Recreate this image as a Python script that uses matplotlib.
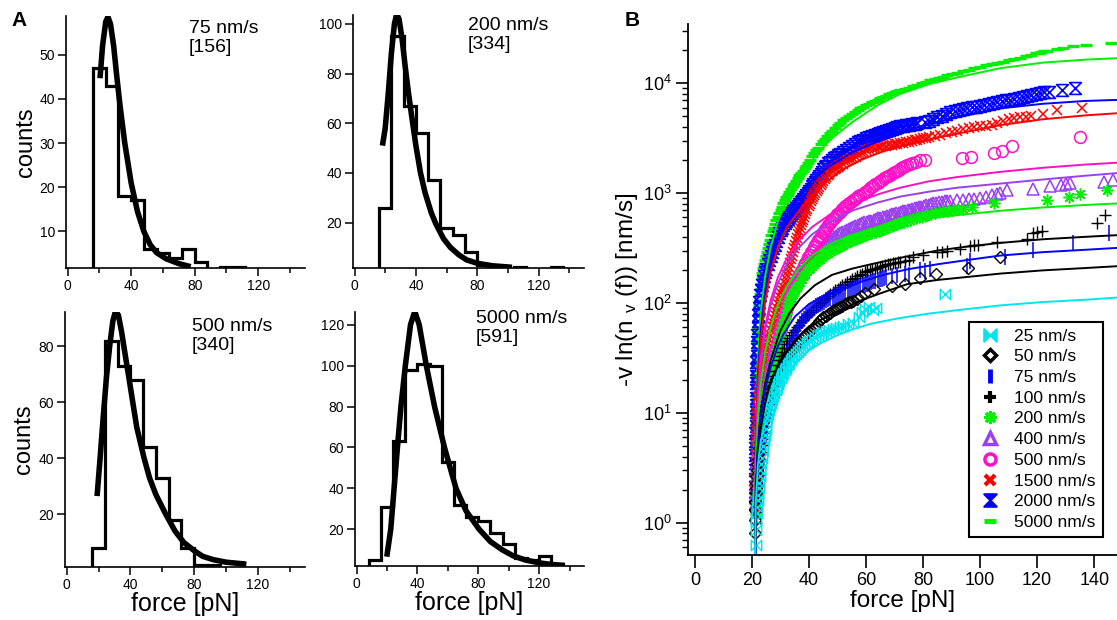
import matplotlib
matplotlib.use('Agg')
import matplotlib.pyplot as plt
import numpy as np
from matplotlib.path import Path
from matplotlib.lines import Line2D
from matplotlib.ticker import FixedLocator, LogLocator, NullFormatter, FuncFormatter

plt.rcParams['font.family'] = ['Liberation Sans', 'DejaVu Sans']
plt.rcParams['mathtext.fontset'] = 'custom'
plt.rcParams['mathtext.rm'] = 'Liberation Sans'
plt.rcParams['mathtext.it'] = 'Liberation Sans:italic'
plt.rcParams['mathtext.bf'] = 'Liberation Sans:bold'

# ---------------- Panel A data ----------------
edges_75 = [16, 24, 32, 40, 48, 56, 64, 72, 80, 88, 96, 104, 112]
counts_75 = [47, 43, 18, 17, 6, 5, 4, 6, 3, 0, 2, 2]
fit_75 = [(20.4, 44.7), (22, 52), (24, 57.5), (25.4, 58.6), (27, 57), (29, 52), (31, 45),
          (33, 38.5), (36, 30), (40, 21), (44, 14.5), (48, 10), (52, 7), (56, 5.2),
          (62, 3.8), (70, 2.7), (77.5, 2.0)]

edges_200 = [16, 24, 32, 40, 48, 56, 64, 72, 80, 88, 96, 104, 112, 120, 128, 136]
counts_200 = [26, 95, 67, 56, 37, 18, 15, 8, 3, 2, 1, 2, 0, 0, 2]
fit_200 = [(18.2, 51), (20, 58), (22, 72), (24, 88), (26, 100), (27.5, 104), (29, 102),
           (31, 94), (33, 83), (35, 73), (37, 64), (40, 51), (43, 40), (46, 32), (50, 24),
           (53, 19.5), (58, 13.5), (62.5, 10), (68, 7), (73, 5), (80, 3.6), (90, 2.6),
           (102.6, 2.0)]

edges_500 = [16, 24, 32, 40, 48, 56, 64, 72, 80, 88, 96, 104, 112]
counts_500 = [8, 82, 73, 68, 44, 33, 18, 8, 2, 2, 1, 1]
fit_500 = [(19.1, 26.5), (21, 40), (23, 55), (25, 69), (27, 80), (29, 89), (30.7, 92.6),
           (32.5, 91), (34.5, 85), (37, 76), (39, 69), (41.2, 61), (44, 51), (48.6, 40),
           (52, 33), (56, 27), (62.2, 20), (68, 14), (73.4, 10), (80, 7), (85.3, 5),
           (92, 3.8), (100, 2.9), (112.7, 2.2)]

edges_5000 = [8, 16, 24, 32, 40, 48, 56, 64, 72, 80, 88, 96, 104, 112, 120, 128, 136]
counts_5000 = [5, 31, 63, 98, 101, 100, 53, 32, 26, 24, 18, 13, 6, 5, 7, 3]
fit_5000 = [(19.9, 6.6), (22.5, 20), (24.7, 40), (26.9, 60), (29.2, 80), (32.1, 100),
            (35.5, 120), (38.3, 126.5), (41.2, 120), (45.9, 100), (51.3, 80), (57.8, 60),
            (65.4, 40), (72, 29), (80.6, 20), (88, 14), (95.7, 10), (103, 7), (110.9, 5),
            (120, 3.6), (128, 2.8), (136.9, 2.3)]

hist_labels = ['75 nm/s\n[156]', '200 nm/s\n[334]', '500 nm/s\n[340]', '5000 nm/s\n[591]']

# ---------------- Panel B data: (force [pN], -v ln(n_v(f)) [nm/s]) ----------------
s5000 = [(21.0,1.5),(21.05,1.7),(21.1,1.9),(21.1,2.1),(21.15,2.4),(21.15,2.7),(21.2,3.0),(21.2,3.4),
         (21.25,3.8),(21.25,4.3),(21.3,4.8),(21.3,5.4),(21.35,6.0),(21.35,6.8),(21.4,7.6),(21.4,8.5),
         (21.45,9.5),(21.5,10.6),(21.5,12),(21.55,13.4),(21.6,15),(21.65,17),(21.7,19),(21.75,21),
         (21.8,24),(21.85,27),(21.9,30),(21.95,34),(22.0,38),(22.05,43),(22.1,48),(22.15,54),
         (22.2,60),(22.3,68),(22.4,76),(22.45,85),(22.55,95),(22.65,106),(22.8,120),(22.95,134),
         (23.1,150),(23.3,168),(23.55,188),(23.8,210),
         (24.0,225),(24.4,245),(24.8,265),(25.2,288),(25.6,315),(26.0,345),(26.4,378),(26.8,412),
         (27.2,450),(27.6,485),(28.0,525),(28.5,570),(29.0,610),(29.5,655),(30.0,700),(30.5,755),
         (31.0,810),(31.5,870),(32.0,920),(32.5,970),(33.0,1020),(33.6,1085),(34.2,1150),(34.8,1220),
         (35.4,1300),(36.0,1370),(36.6,1450),(37.2,1525),(37.8,1600),(38.4,1675),(39.0,1750),
         (39.7,1860),(40.4,1990),(41.1,2170),(41.8,2310),(42.5,2450),(43.2,2600),(44.0,2780),
         (44.8,2950),(45.6,3130),(46.4,3310),(47.2,3500),(48.0,3680),(49.0,3900),(50.0,4150),
         (51.0,4380),(52.0,4610),(53.0,4850),(54.0,5060),(55.0,5280),(56.0,5500),(57.0,5700),
         (58.0,5900),(59.0,6100),(60.0,6300),(61.0,6500),(62.0,6700),(63.0,6900),(64.0,7100),
         (65.0,7300),(66.0,7500),(67.0,7700),(68.0,7900),(69.0,8070),(70.0,8250),(71.0,8420),
         (72.0,8600),(73.5,8850),(75.0,9120),(76.5,9400),(78.0,9700),(79.5,9950),(81.0,10250),
         (82.5,10600),(84.0,10900),(85.5,11150),(87.0,11450),(88.5,11800),(90.0,12100),
         (92.0,12500),(94.0,12900),(96.0,13300),(98.0,13700),(100.0,14100),(102.0,14500),
         (104.0,14900),(106.0,15300),(108.0,15700),(110.0,16100),(112.0,16600),(114.0,17100),
         (116.0,17600),(118.0,18200),(119.5,18700),(120.5,19000),(121.5,19300),(122.5,19500),
         (123.5,19700),(127.0,20400),(129.0,20900),(132.7,22000),(137.0,22500),(146.0,23200)]
s2000 = [(21.0,1.5),(21.0,1.8),(21.0,2.1),(21.05,2.5),(21.05,3.0),(21.1,3.5),(21.1,4.1),(21.1,4.8),
         (21.15,5.6),(21.15,6.5),(21.2,7.6),(21.2,8.8),(21.25,10.2),(21.25,11.8),(21.3,13.7),
         (21.3,16),(21.35,18.5),(21.4,21.5),(21.45,25),(21.5,29),(21.55,33),(21.6,38),(21.7,44),
         (21.8,51),(21.9,59),(22.0,68),(22.15,78),(22.3,90),(22.5,103),(22.75,118),
         (23.0,130),(23.4,145),(23.8,160),(24.2,175),(24.6,190),(25.0,205),(25.5,225),(26.0,245),
         (26.5,265),(27.0,290),(27.5,315),(28.0,340),(28.5,370),(29.0,400),(29.5,430),(30.0,460),
         (30.5,485),(31.0,510),(31.5,535),(32.0,560),(32.5,585),(33.0,610),(33.5,630),(34.0,655),
         (34.5,680),(35.0,705),(35.5,735),(36.0,765),(36.5,795),(37.0,825),(37.5,855),(38.0,885),
         (38.5,920),(39.0,960),(39.5,1000),(40.0,1050),(40.5,1100),(41.0,1150),(41.5,1200),
         (42.0,1250),(42.5,1310),(43.0,1370),(43.5,1430),(44.0,1500),(44.5,1570),(45.0,1640),
         (45.5,1710),(46.0,1780),(46.7,1860),(47.4,1930),(48.1,2000),(48.8,2070),(49.5,2140),
         (50.2,2210),(51.0,2290),(52.0,2390),(53.0,2490),(54.0,2590),(55.0,2690),(56.0,2790),
         (57.0,2890),(58.0,2990),(59.0,3070),(60.0,3150),(61.0,3230),(62.0,3300),(63.0,3380),
         (64.0,3450),(65.0,3530),(66.0,3600),(67.0,3680),(68.0,3750),(69.0,3830),(70.0,3900),
         (71.0,3980),(72.0,4050),(73.0,4100),(74.0,4150),(75.0,4200),(76.0,4250),(77.0,4280),
         (78.0,4300),(80.5,4450),(82.0,4550),(83.5,4700),(85.0,4880),(86.5,5050),(88.0,5250),
         (89.5,5420),(91.0,5580),(92.5,5700),(94.0,5820),(95.5,5930),(97.0,6020),(98.5,6120),
         (100.0,6200),(101.5,6300),(103.0,6420),(104.5,6550),(106.0,6700),(107.5,6850),
         (109.0,6980),(110.5,7080),(112.0,7200),(113.5,7350),(115.0,7500),(116.5,7650),
         (118.0,7800),(119.5,7950),(121.0,8100),(122.5,8250),(124.0,8400),(128.7,8700),(133.3,9000)]
s1500 = [(21.0,1.2),(21.05,1.5),(21.1,2.0),(21.15,2.5),(21.2,3.0),(21.25,3.6),(21.3,4.2),(21.35,4.9),
         (21.4,5.5),(21.45,6.2),(21.5,7.0),(21.55,7.8),(21.6,8.5),(21.7,9.3),(21.8,10),(21.9,11.2),
         (22.0,12.5),(22.15,13.8),(22.3,15),(22.45,16.7),(22.6,18.5),(22.8,20.2),(23.0,22),
         (23.25,24),(23.5,26),(23.75,28),(24.0,30),(24.25,32.5),(24.5,35),(24.75,38),(25.0,41),
         (25.35,44.5),(25.7,48),(26.1,52.5),(26.5,57),(26.85,61.5),(27.2,66),(27.6,71.5),(28.0,77),
         (28.4,83),(28.8,90),(29.15,97),(29.5,105),(29.9,113),(30.3,122),(30.65,131),(31.0,140),
         (31.4,152),(31.8,165),(32.15,180),(32.5,195),(32.85,212),(33.2,230),(33.6,250),(34.0,270),
         (34.35,292),(34.7,315),(35.05,340),(35.4,365),(35.75,392),(36.1,420),(36.45,450),(36.8,480),
         (37.15,510),(37.5,540),(37.85,570),(38.2,600),(38.6,640),(39.0,680),(39.4,720),(39.8,760),
         (40.2,800),(40.6,840),(41.0,880),(41.4,920),(41.8,960),(42.2,1000),(42.6,1040),(43.0,1080),
         (43.5,1130),(44.0,1180),(44.5,1240),(45.0,1300),(45.5,1350),(46.0,1400),(46.5,1450),
         (47.0,1500),(47.5,1540),(48.0,1580),(48.5,1615),(49.0,1650),(49.5,1690),(50.0,1730),
         (50.5,1765),(51.0,1800),(51.8,1850),(52.5,1900),(53.3,1950),(54.0,2000),(54.8,2050),
         (55.5,2100),(56.3,2150),(57.0,2200),(57.8,2250),(58.5,2300),(59.3,2370),(60.0,2450),
         (61.0,2500),(62.0,2550),(63.0,2590),(64.0,2620),(65.0,2650),(66.0,2680),(67.0,2700),
         (68.0,2730),(69.0,2750),(70.0,2780),(71.0,2800),(72.0,2830),(73.0,2860),(74.0,2900),
         (75.0,2940),(76.0,2980),(77.0,3020),(78.0,3060),(79.0,3100),(80.0,3150),(81.0,3200),
         (82.0,3250),(84.0,3300),(86.0,3400),(88.0,3500),(90.0,3600),(92.0,3700),(94.0,3800),
         (96.0,3950),(98.0,4000),(100.0,4050),(102.0,4100),(104.0,4200),(106.0,4300),(108.0,4500),
         (110.0,4700),(112.0,4800),(114.0,4900),(116.0,4950),(118.0,5000),(122.0,5300),(127.0,5700),
         (135.7,6000)]
s500 = [(21.5,2.3),(21.65,2.65),(21.8,3.0),(21.9,3.35),(22.0,3.7),(22.15,4.1),(22.3,4.5),(22.45,5.0),
        (22.6,5.5),(22.8,6.0),(23.0,6.6),(23.2,7.3),(23.4,8.0),(23.6,8.7),(23.8,9.5),(24.05,10.5),
        (24.3,11.5),(24.55,12.5),(24.8,13.5),(25.05,14.7),(25.3,16),(25.6,17.5),(25.9,19),(26.2,20.5),
        (26.5,22),(26.85,24.5),(27.2,27),(27.6,30),(28.0,33),(28.35,36.5),(28.7,40),(29.05,44),
        (29.4,48),(29.8,53),(30.2,58),(30.6,64),(31.0,70),(31.4,77),(31.8,84),(32.2,92),(32.6,100),
        (33.0,109),(33.4,118),(33.85,127),(34.3,137),(34.75,146),(35.2,155),(35.7,165),(36.2,175),
        (36.7,185),(37.2,195),(37.7,207),(38.2,220),(38.7,232),(39.2,245),(39.7,260),(40.2,275),
        (40.7,290),(41.2,305),(41.7,322),(42.2,340),(42.7,357),(43.2,375),(43.7,392),(44.2,410),
        (44.7,430),(45.2,450),(45.7,470),(46.2,490),(46.7,510),(47.2,530),(47.75,552),(48.3,575),
        (48.85,597),(49.4,620),(49.95,642),(50.5,665),(51.05,687),(51.6,710),(52.15,735),(52.7,760),
        (53.35,785),(54.0,810),(54.65,835),(55.3,860),(55.95,885),(56.6,910),(57.3,935),(58.0,960),
        (58.75,990),(59.5,1020),(60.25,1055),(61.0,1090),(61.75,1125),(62.5,1160),(63.25,1200),
        (64.0,1240),(64.75,1280),(65.5,1320),(66.25,1360),(67.0,1400),(67.75,1435),(68.5,1470),
        (69.25,1510),(70.0,1550),(70.75,1590),(71.5,1630),(72.25,1675),(73.0,1720),(73.75,1760),
        (74.5,1800),(75.25,1835),(76.0,1870),(77.5,1930),(79.0,1980),(80.5,2000),(93.6,2070),
        (96.7,2130),(104.7,2300),(107.6,2430),(111.1,2680),(135.1,3260)]
s400 = [(21.3,1.5),(21.4,1.85),(21.5,2.2),(21.6,2.6),(21.7,3.0),(21.85,3.5),(22.0,4.0),(22.15,4.6),
        (22.3,5.2),(22.5,6.0),(22.7,6.8),(22.9,7.6),(23.1,8.5),(23.35,9.5),(23.6,10.5),(23.9,11.7),
        (24.2,13),(24.5,14.5),(24.8,16),(25.15,18),(25.5,20),(25.85,22.5),(26.2,25),(26.6,28),
        (27.0,31),(27.4,34.5),(27.8,38),(28.2,42),(28.6,46),(29.05,51),(29.5,56),(29.95,62),(30.4,68),
        (30.85,75),(31.3,82),(31.75,89),(32.2,97),(32.7,106),(33.2,115),(33.7,124),(34.2,133),
        (34.75,142),(35.3,152),(35.9,162),(36.5,172),(37.1,182),(37.7,193),(38.35,204),(39.0,215),
        (39.65,227),(40.3,240),(40.95,252),(41.6,265),(42.3,277),(43.0,290),(43.7,305),(44.4,320),
        (45.1,332),(45.8,345),(46.5,357),(47.2,370),(47.95,382),(48.7,395),(49.45,407),(50.2,420),
        (50.95,430),(51.7,440),(52.45,450),(53.2,460),(53.95,470),(54.7,480),(55.45,490),(56.2,500),
        (57.0,510),(57.8,520),(58.6,530),(59.4,540),(60.2,548),(61.0,555),(61.8,562),(62.6,570),
        (63.4,580),(64.2,590),(65.0,598),(65.8,605),(66.6,612),(67.4,620),(68.2,630),(69.0,640),
        (69.8,648),(70.6,655),(71.4,662),(72.2,670),(73.0,680),(73.8,690),(74.6,698),(75.4,705),
        (76.2,715),(77.0,725),(77.8,735),(78.6,745),(79.4,755),(80.2,765),(81.1,775),(82.0,785),
        (82.8,795),(83.6,805),(84.5,815),(85.5,825),(86.5,832),(87.5,840),(88.5,848),(89.5,855),
        (92.0,865),(94.0,870),(96.0,880),(98.0,890),(100.0,900),(102.0,930),(104.0,960),(106.0,990),
        (107.0,1010),(109.4,1060),(118.7,1100),(124.6,1160),(128.5,1190),(130.0,1220),(131.6,1240),
        (143.5,1270),(146.7,1320)]
s200 = [(21.2,1.2),(21.3,1.5),(21.4,1.8),(21.55,2.15),(21.7,2.5),(21.85,2.95),(22.0,3.4),(22.2,3.95),
        (22.4,4.5),(22.6,5.1),(22.8,5.8),(23.05,6.5),(23.3,7.3),(23.55,8.1),(23.8,9),(24.1,10),
        (24.4,11),(24.7,12.2),(25.0,13.5),(25.35,15),(25.7,16.5),(26.05,18.2),(26.4,20),(26.75,22),
        (27.1,24),(27.45,26.5),(27.8,29),(28.15,32),(28.5,35),(28.85,38.5),(29.2,42),(29.55,46),
        (29.9,50),(30.25,55),(30.6,60),(31.0,66),(31.4,72),(31.8,79),(32.2,87),(32.6,95),(33.0,102),
        (33.4,108),(33.8,115),(34.25,121),(34.7,127),(35.2,133),(35.7,140),(36.25,147),(36.8,155),
        (37.4,165),(38.0,175),(38.6,185),(39.2,195),(39.8,202),(40.4,210),(41.05,219),(41.7,228),
        (42.35,236),(43.0,245),(43.75,253),(44.5,262),(45.25,271),(46.0,280),(46.75,287),(47.5,295),
        (48.25,302),(49.0,310),(49.75,317),(50.5,325),(51.25,332),(52.0,340),(52.85,348),(53.7,357),
        (54.55,365),(55.4,373),(56.3,381),(57.2,390),(58.1,399),(59.0,408),(59.9,416),(60.8,425),
        (61.7,432),(62.6,440),(63.5,447),(64.4,455),(65.3,462),(66.2,470),(67.1,480),(68.0,490),
        (68.9,500),(69.8,510),(70.7,520),(71.6,530),(72.5,540),(73.4,550),(74.5,560),(75.5,570),
        (76.5,580),(77.5,590),(78.5,600),(79.5,610),(80.5,622),(81.5,635),(82.8,645),(84.0,655),
        (85.5,668),(87.0,680),(88.8,690),(90.6,700),(92.3,710),(94.0,720),(97.0,750),(104.7,805),
        (123.4,860),(131.0,920),(135.1,990),(144.5,1060)]
s100 = [(21.3,1.0),(21.45,1.25),(21.6,1.5),(21.8,1.85),(22.0,2.2),(22.25,2.7),(22.5,3.2),(22.75,3.8),
        (23.0,4.4),(23.3,5.1),(23.6,5.8),(23.95,6.6),(24.3,7.5),(24.65,8.5),(25.0,9.5),(25.4,10.7),
        (25.8,12),(26.2,13.5),(26.6,15),(27.05,17),(27.5,19),(28.0,21.5),(28.5,24),(29.0,27),
        (29.5,30),(30.05,33),(30.6,36),(31.2,39),(31.8,42),(32.4,45),(33.0,48),(33.65,51),(34.3,54),
        (35.0,57),(35.7,60),(36.35,63.5),(37.0,67),(37.75,70.5),(38.5,74),(39.25,77),(40.0,80),
        (40.75,83.5),(41.5,87),(42.25,91),(43.0,95),(43.75,99),(44.5,103),(45.25,107.5),(46.0,112),
        (46.75,116),(47.5,120),(48.35,125),(49.2,130),(50.05,135),(50.9,140),(51.7,145),(52.5,150),
        (53.35,155),(54.2,160),(55.1,165),(56.0,170),(56.9,175),(57.8,180),(58.65,185),(59.5,190),
        (60.35,194),(61.2,198),(62.1,202),(63.0,205),(63.9,209),(64.8,212),(65.7,216),(66.6,220),
        (67.5,224),(68.4,228),(69.3,231),(70.2,233),(71.1,236),(72.0,238),(73.5,242),(75.0,248),
        (76.6,262),(80.1,272),(84.9,290),(86.5,288),(88.4,295),(93.0,313),(96.5,330),(98.0,334),
        (99.4,340),(105.8,360),(116.4,386),(118.7,430),(120.0,440),(121.6,450),(141.0,530),(143.9,630)]
s75 = [(21.2,0.6),(21.3,0.9),(21.4,1.05),(21.5,1.2),(21.65,1.4),(21.8,1.6),(21.95,1.8),(22.1,2.0),
       (22.3,2.3),(22.5,2.6),(22.7,2.95),(22.9,3.3),(23.15,3.7),(23.4,4.1),(23.65,4.55),(23.9,5.0),
       (24.2,5.6),(24.5,6.2),(24.8,6.9),(25.1,7.6),(25.45,8.4),(25.8,9.3),(26.15,10.1),(26.5,11),
       (26.9,12.2),(27.3,13.5),(27.7,14.7),(28.1,16),(28.55,18),(29.0,20),(29.45,22),(29.9,24),
       (30.35,26),(30.8,28),(31.3,30.5),(31.8,33),(32.3,36),(32.8,39),(33.35,42),(33.9,45),
       (34.45,48.5),(35.0,52),(35.6,56),(36.2,60),(36.85,64),(37.5,68),(38.15,72),(38.8,76),
       (39.5,80),(40.2,84),(40.9,87),(41.6,90),(42.3,93),(43.0,96),(43.75,98),(44.5,100),
       (45.25,103),(46.0,106),(46.75,108.5),(47.5,111),(48.25,113.5),(49.0,116),(49.75,118),
       (50.5,120),(51.25,122.5),(52.0,125),(52.75,127.5),(53.5,130),(54.25,132),(55.0,134),
       (55.75,136),(56.5,138),(57.25,140.5),(58.0,143),(58.75,145),(59.5,147),(60.25,149.5),
       (61.0,152),(61.75,154.5),(62.5,157),(63.25,159.5),(64.0,162),(64.75,164),(65.5,166),
       (66.25,168.5),(67.0,171),(69.0,176),(71.0,180),(73.5,185),(75.0,180),(79.0,200),(80.5,196),
       (82.5,205),(95.4,215),(96.5,240),(108.8,262),(118.7,302),(132.7,348),(145.1,430)]
s50 = [(21.1,0.8),(21.1,1.05),(21.1,1.3),(21.15,1.55),(21.2,1.85),(21.25,2.05),(21.3,2.3),(21.45,2.65),
       (21.6,3.0),(21.8,3.4),(22.0,3.8),(22.25,4.3),(22.5,4.8),(22.75,5.4),(23.0,6.0),(23.3,6.7),
       (23.6,7.5),(23.95,8.5),(24.3,9.5),(24.65,10.5),(25.0,11.5),(25.5,12.7),(26.0,14),(26.5,15.2),
       (27.0,16.5),(27.5,17.7),(28.0,19),(28.5,20.5),(29.0,22),(29.5,23.5),(30.0,25),(30.5,26.5),
       (31.0,28),(31.5,29.5),(32.0,31),(32.5,32.5),(33.0,34),(33.5,35.5),(34.0,37),(34.65,39),
       (35.3,41),(35.95,43),(36.6,45),(37.25,47),(37.9,49),(38.55,51),(39.2,53),(39.9,55),(40.6,57),
       (41.3,59.5),(42.0,62),(42.75,65),(43.5,68),(44.25,71),(45.0,74),(45.75,76.5),(46.5,79),
       (47.25,81.5),(48.0,84),(48.75,86),(49.5,88),(50.2,90),(50.9,92),(51.7,94.5),(52.5,97),
       (53.25,99),(54.0,101),(54.75,103),(55.5,105),(56.7,108),(58.2,115),(59.7,122),(62.6,135),
       (69.0,142),(73.7,150),(78.9,167),(84.4,183),(95.9,206),(107.0,262)]
s25 = [(21.3,0.63),(21.4,0.85),(21.5,1.06),(21.65,1.23),(21.8,1.4),(21.95,1.6),(22.1,1.8),(22.3,2.05),
       (22.5,2.3),(22.7,2.65),(22.9,3.0),(23.15,3.45),(23.4,3.9),(23.65,4.45),(23.9,5.0),(24.15,5.65),
       (24.4,6.3),(24.7,7.1),(25.0,8.0),(25.3,8.9),(25.6,9.8),(25.95,10.6),(26.3,11.5),(26.65,12.3),
       (27.0,13.2),(27.4,14.1),(27.8,15),(28.25,16),(28.7,17),(29.15,18.2),(29.6,19.5),(30.05,20.7),
       (30.5,22),(31.0,23.2),(31.5,24.5),(32.0,25.7),(32.5,27),(33.0,28.5),(33.5,30),(34.1,31.5),
       (34.7,33),(35.35,34.5),(36.0,36),(36.75,37.7),(37.5,39.5),(38.35,41.2),(39.2,43),(40.1,45),
       (41.0,47),(42.0,49),(43.0,51),(44.0,52.5),(45.0,54),(46.0,55.5),(47.0,57),(48.25,58),
       (49.5,59),(50.75,60.5),(52.0,62),(53.75,64),(55.5,66),(57.5,75),(58.5,82),(59.5,88),
       (61.0,92),(62.5,86),(63.5,90),(87.7,120)]

fit25 = [(21.0,0.5),(21.3,1.5),(22,3.3),(23,5.5),(24.5,8),(26.3,10.5),(28.5,15),(32.2,23),(36,30),
         (40,37),(44,43),(50,51),(55.6,58),(62,65),(72,73),(82,80),(92,86),(107,95),(122,102),
         (137,107),(148,112)]
fit50 = [(21.0,0.5),(21.4,1.5),(22,3.5),(23,7),(24.5,12),(26.5,19),(29,27),(33.3,40),(38,54),
         (44,70),(50.9,86),(58,105),(66,125),(74.3,148),(85,162),(95,172),(107,185),(122,198),
         (137,208),(148,216)]
fit75 = [(21.0,0.5),(21.3,1.8),(22,4.5),(23,9),(24.5,16),(26.5,26),(29,40),(31,52),(35,75),
         (40,98),(45,115),(50.9,130),(58,155),(66,180),(74.3,202),(85,225),(95,245),(107,270),
         (122,290),(137,305),(148,317)]
fit100 = [(21.0,0.5),(21.3,2),(22,5),(23,10),(24.5,18),(26.5,30),(29.8,55),(33,80),(37,110),
          (42,145),(48,180),(55,205),(62.6,228),(74.3,265),(85,300),(95,325),(107,352),
          (122,380),(137,400),(148,414)]
fit200 = [(21,0.5),(21.3,3),(22,8),(23,18),(24.5,35),(26.5,60),(29,95),(32,140),(36,200),(41,270),
          (47,340),(54,410),(62,470),(72,530),(82,590),(92,630),(107,690),(122,740),(137,780),
          (148,805)]
fit400 = [(21,0.5),(21.3,4),(22,12),(23,28),(24.5,55),(26.5,95),(29,150),(32,220),(36,310),
          (41,420),(47,540),(55.6,700),(64,820),(72,930),(82,1030),(92,1120),(107,1220),
          (122,1330),(137,1440),(148,1520)]
fit500 = [(21,0.5),(21.3,4),(22,13),(23,30),(24.5,60),(26.5,105),(29,170),(32,250),(36,360),
          (41,490),(47,630),(55,800),(65,990),(72,1120),(82,1280),(92,1400),(107,1560),
          (122,1700),(137,1820),(148,1890)]
fit1500 = [(21,0.5),(21.3,5),(22,18),(23,45),(24.5,100),(26.5,190),(29,320),(32,480),(35.7,650),
           (40,900),(45,1200),(51,1600),(58,2000),(66,2400),(74.3,2750),(85,3200),(95,3600),
           (107,4150),(122,4700),(137,5100),(148,5330)]
fit2000 = [(21,0.5),(21.3,6),(22,22),(23,55),(24.5,120),(26.5,230),(29,400),(32,620),(36,900),
           (41,1300),(47,1750),(55,2350),(64,2950),(72,3550),(82,4250),(92,4900),(107,5900),
           (122,6500),(137,6900),(148,7050)]
fit5000 = [(21,0.5),(21.3,8),(22,30),(23,80),(24.5,170),(26.5,320),(29,550),(32,850),(36,1300),
           (41,2000),(47,3000),(55,4400),(64,6300),(72,8000),(82,9800),(92,11300),(107,13700),
           (122,15400),(137,16400),(148,16900)]

speeds = ['25 nm/s', '50 nm/s', '75 nm/s', '100 nm/s', '200 nm/s', '400 nm/s',
          '500 nm/s', '1500 nm/s', '2000 nm/s', '5000 nm/s']

# ---------------- styles ----------------
CYAN = '#00E5EE'; GREEN = '#00F000'; PURPLE = '#9A40F0'; MAGENTA = '#FF10C8'
RED = '#FF0000'; BLUE = '#0000FF'; BLACK = '#000000'

hourglass = Path([(-1, 1), (1, 1), (-1, -1), (1, -1), (-1, 1)],
                 [Path.MOVETO, Path.LINETO, Path.LINETO, Path.LINETO, Path.CLOSEPOLY])
bowtie = Path([(-1, 1), (-1, -1), (1, 1), (1, -1), (-1, 1)],
              [Path.MOVETO, Path.LINETO, Path.LINETO, Path.LINETO, Path.CLOSEPOLY])
asterisk = (8, 2, 0)

series = {
    '25 nm/s':   (s25,   bowtie,    CYAN,    7.5, 1.0, fit25),
    '50 nm/s':   (s50,   'D',       BLACK,   6.0, 1.0, fit50),
    '75 nm/s':   (s75,   '|',       BLUE,    11,  1.1, fit75),
    '100 nm/s':  (s100,  '+',       BLACK,   8,   1.0, fit100),
    '200 nm/s':  (s200,  asterisk,  GREEN,   8.5, 1.1, fit200),
    '400 nm/s':  (s400,  '^',       PURPLE,  8.5, 1.1, fit400),
    '500 nm/s':  (s500,  'o',       MAGENTA, 8.5, 1.1, fit500),
    '1500 nm/s': (s1500, 'x',       RED,     7.5, 1.1, fit1500),
    '2000 nm/s': (s2000, hourglass, BLUE,    8.5, 1.2, fit2000),
    '5000 nm/s': (s5000, '_',       GREEN,   8.5, 2.4, fit5000),
}
draw_order = ['5000 nm/s', '2000 nm/s', '1500 nm/s', '400 nm/s', '500 nm/s',
              '200 nm/s', '100 nm/s', '75 nm/s', '50 nm/s', '25 nm/s']

fig = plt.figure(figsize=(11.17, 6.2), dpi=100)

# ---------------- Panel A ----------------
hist_sets = [
    (edges_75, counts_75, fit_75, (1.7, 58.8), [10, 20, 30, 40, 50], [0.0591, 0.5677, 0.2140, 0.4065], (0.515, 0.984), True, False),
    (edges_200, counts_200, fit_200, (1.7, 103.6), [20, 40, 60, 80, 100], [0.3160, 0.5677, 0.2068, 0.4081], (0.498, 0.992), False, False),
    (edges_500, counts_500, fit_500, (1.3, 92.2), [20, 40, 60, 80], [0.0582, 0.0860, 0.2149, 0.4108], (0.528, 0.976), True, True),
    (edges_5000, counts_5000, fit_5000, (2.2, 126.2), [20, 40, 60, 80, 100, 120], [0.3178, 0.0876, 0.2050, 0.4092], (0.528, 1.006), False, True),
]
for (edges, counts, fit, ylim, yt, pos, tpos, ylab, xlab), lab in zip(hist_sets, hist_labels):
    ax = fig.add_axes(pos)
    ax.stairs(counts, edges, baseline=0, color='k', lw=2.3)
    fx = [p[0] for p in fit]; fy = [p[1] for p in fit]
    ax.plot(fx, fy, color='k', lw=4.0, solid_capstyle='butt')
    ax.set_xlim(-1, 149.5)
    ax.set_ylim(*ylim)
    ax.xaxis.set_major_locator(FixedLocator([0, 40, 80, 120]))
    ax.xaxis.set_minor_locator(FixedLocator([20, 60, 100, 140]))
    ax.yaxis.set_major_locator(FixedLocator(yt))
    for s in ['top', 'right']:
        ax.spines[s].set_visible(False)
    for s in ['left', 'bottom']:
        ax.spines[s].set_linewidth(1.2)
    ax.tick_params(which='major', direction='out', length=6, width=1.1, labelsize=10, pad=2)
    ax.tick_params(which='minor', direction='out', length=3.5, width=1.1)
    ax.text(tpos[0], tpos[1], lab, transform=ax.transAxes, ha='left', va='top',
            fontsize=14, linespacing=1.15)
    if ylab:
        ax.set_ylabel('counts', fontsize=17, labelpad=2)
    if xlab:
        ax.set_xlabel('force [pN]', fontsize=18, labelpad=0)

fig.text(0.010, 0.982, 'A', fontsize=15, fontweight='bold', va='top', ha='left')
fig.text(0.559, 0.982, 'B', fontsize=15, fontweight='bold', va='top', ha='left')

# ---------------- Panel B ----------------
axb = fig.add_axes([0.6159, 0.1048, 0.3841, 0.8565])
for name in draw_order:
    data, mk, col, ms, mew, fit = series[name]
    x = [p[0] for p in data]; y = [p[1] for p in data]
    axb.plot(x, y, ls='none', marker=mk, ms=ms, mew=mew, mfc='none', mec=col, color=col)
for name in draw_order:
    data, mk, col, ms, mew, fit = series[name]
    x = [p[0] for p in fit]; y = [p[1] for p in fit]
    axb.plot(x, y, color=col, lw=1.4)

axb.set_yscale('log')
axb.set_xlim(-2.5, 148)
axb.set_ylim(0.508, 34600)
axb.xaxis.set_major_locator(FixedLocator(list(range(0, 141, 20))))
axb.yaxis.set_major_locator(LogLocator(base=10, numticks=10))
axb.yaxis.set_minor_locator(LogLocator(base=10, subs=np.arange(2, 10), numticks=20))
axb.yaxis.set_minor_formatter(NullFormatter())
axb.yaxis.set_major_formatter(FuncFormatter(lambda v, p: r'$10^{%d}$' % int(round(np.log10(v)))))
for s in ['top', 'right']:
    axb.spines[s].set_visible(False)
for s in ['left', 'bottom']:
    axb.spines[s].set_linewidth(1.3)
axb.tick_params(which='major', direction='out', length=9, width=1.2, labelsize=13, pad=3)
axb.tick_params(which='minor', direction='out', length=4.5, width=1.0)
axb.set_xlabel('force [pN]', fontsize=17.5, labelpad=1)
axb.set_ylabel(r'-v ln(n $_{\mathrm{v}}$ (f)) [nm/s]', fontsize=17.5, labelpad=2)

leg_style = {
    '25 nm/s':   dict(marker=bowtie, ms=9, mew=1.5, mfc=CYAN, mec=CYAN),
    '50 nm/s':   dict(marker='D', ms=6.5, mew=2.5, mfc='white', mec=BLACK),
    '75 nm/s':   dict(marker='|', ms=10, mew=3.5, mec=BLUE),
    '100 nm/s':  dict(marker='+', ms=9, mew=3.0, mec=BLACK),
    '200 nm/s':  dict(marker=asterisk, ms=9, mew=2.2, mec=GREEN),
    '400 nm/s':  dict(marker='^', ms=8.5, mew=2.5, mfc='white', mec=PURPLE),
    '500 nm/s':  dict(marker='o', ms=8, mew=2.5, mfc='white', mec=MAGENTA),
    '1500 nm/s': dict(marker='x', ms=7.5, mew=3.0, mec=RED),
    '2000 nm/s': dict(marker=hourglass, ms=9, mew=1.5, mfc=BLUE, mec=BLUE),
    '5000 nm/s': dict(marker='_', ms=9, mew=3.5, mec=GREEN),
}
handles = [Line2D([], [], ls='none', **leg_style[s]) for s in speeds]
leg = axb.legend(handles, speeds, loc='lower right', bbox_to_anchor=(0.967, 0.034),
                 fontsize=12.5, frameon=True, fancybox=False, framealpha=1, edgecolor='k',
                 borderpad=0.4, labelspacing=0.32, handlelength=1.6, handletextpad=0.6,
                 borderaxespad=0)
leg.get_frame().set_linewidth(1.5)

fig.savefig('out.png', dpi=100)
